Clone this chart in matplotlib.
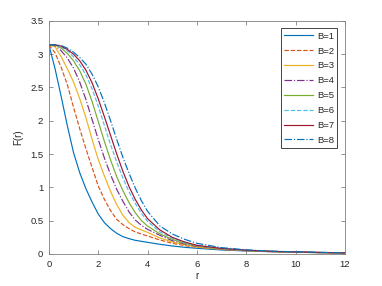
import numpy as np
import matplotlib
matplotlib.use("Agg")
import matplotlib.pyplot as plt

plt.rcParams['font.family'] = ['Liberation Sans', 'DejaVu Sans']

# r grid the curves were read at
r = [0, 0.25, 0.5, 0.75, 1.0, 1.25, 1.5, 1.75, 2.0, 2.25, 2.5, 2.75, 3.0, 3.25,
     3.5, 3.75, 4.0, 4.5, 5.0, 5.5, 6.0, 7.0, 8.0, 9.0, 10.0, 11.0, 12.0]

# F(r) for each B
F_B1 = [3.14, 2.78, 2.36, 1.92, 1.52, 1.22, 0.98, 0.78, 0.60, 0.47, 0.38, 0.31, 0.26, 0.23,
        0.205, 0.19, 0.175, 0.145, 0.12, 0.10, 0.085, 0.06, 0.045, 0.034, 0.026, 0.019, 0.014]
F_B2 = [3.14, 3.02, 2.80, 2.54, 2.20, 1.88, 1.58, 1.30, 1.02, 0.82, 0.65, 0.52, 0.44, 0.38,
        0.33, 0.30, 0.27, 0.21, 0.16, 0.125, 0.10, 0.068, 0.048, 0.035, 0.026, 0.020, 0.015]
F_B3 = [3.14, 3.11, 2.96, 2.78, 2.58, 2.33, 2.05, 1.72, 1.42, 1.17, 0.94, 0.74, 0.58, 0.47,
        0.40, 0.36, 0.325, 0.24, 0.18, 0.14, 0.105, 0.07, 0.05, 0.036, 0.027, 0.020, 0.015]
F_B4 = [3.14, 3.13, 3.05, 2.94, 2.79, 2.58, 2.32, 2.02, 1.72, 1.44, 1.19, 0.97, 0.79, 0.63,
        0.51, 0.43, 0.37, 0.28, 0.20, 0.15, 0.115, 0.075, 0.052, 0.037, 0.028, 0.021, 0.016]
F_B5 = [3.14, 3.14, 3.09, 3.01, 2.90, 2.75, 2.55, 2.29, 1.99, 1.69, 1.41, 1.16, 0.95, 0.77,
        0.62, 0.50, 0.42, 0.30, 0.22, 0.16, 0.12, 0.078, 0.054, 0.038, 0.029, 0.022, 0.016]
F_B6 = [3.14, 3.14, 3.11, 3.05, 2.96, 2.84, 2.69, 2.48, 2.22, 1.93, 1.64, 1.38, 1.14, 0.93,
        0.76, 0.61, 0.49, 0.33, 0.24, 0.17, 0.125, 0.08, 0.055, 0.039, 0.030, 0.022, 0.017]
F_B7 = [3.14, 3.14, 3.12, 3.07, 3.00, 2.90, 2.76, 2.57, 2.33, 2.06, 1.78, 1.50, 1.24, 1.01,
        0.82, 0.66, 0.53, 0.36, 0.25, 0.18, 0.13, 0.083, 0.057, 0.040, 0.030, 0.023, 0.017]
F_B8 = [3.14, 3.14, 3.13, 3.09, 3.03, 2.95, 2.85, 2.70, 2.51, 2.27, 2.00, 1.72, 1.45, 1.21,
        0.99, 0.80, 0.64, 0.42, 0.30, 0.22, 0.16, 0.095, 0.062, 0.043, 0.032, 0.024, 0.018]

curves = [F_B1, F_B2, F_B3, F_B4, F_B5, F_B6, F_B7, F_B8]
labels = ['B=1', 'B=2', 'B=3', 'B=4', 'B=5', 'B=6', 'B=7', 'B=8']

# matlab default colour order, wraps round for B=8
colors = ['#0072BD', '#D95319', '#EDB120', '#7E2F8E', '#77AC30', '#4DBEEE', '#A2142F', '#0072BD']
styles = ['-', '--', '-', '-.', '-', '--', '-', '-.']

fig = plt.figure(figsize=(3.82, 2.86), dpi=100)
ax = fig.add_axes([0.128, 0.112, 0.775, 0.815])

for F, lab, c, ls in zip(curves, labels, colors, styles):
    ax.plot(r, F, color=c, linestyle=ls, linewidth=0.85, label=lab)

ax.set_xlim(0, 12)
ax.set_ylim(0, 3.5)
ax.set_xticks(np.arange(0, 13, 2))
ax.set_yticks(np.arange(0, 3.6, 0.5))
ax.set_yticklabels(['0', '0.5', '1', '1.5', '2', '2.5', '3', '3.5'])

grey = '#262626'
for s in ax.spines.values():
    s.set_color('#808080')
    s.set_linewidth(0.6)
ax.tick_params(direction='in', top=True, right=True, length=3, width=0.6,
               colors='#808080', labelcolor=grey, labelsize=6.8, pad=4)

ax.set_xlabel('r', fontsize=7, color=grey, labelpad=2)
ax.set_ylabel('F(r)', fontsize=7, color=grey, labelpad=5)

leg = ax.legend(loc='upper right', fontsize=6.8, handlelength=3.1, labelspacing=0.62,
                handletextpad=0.4, borderaxespad=0.8, fancybox=False, framealpha=1,
                borderpad=0.35)
leg.get_frame().set_edgecolor(grey)
leg.get_frame().set_linewidth(0.6)
for t in leg.get_texts():
    t.set_color(grey)

fig.savefig('out.png', dpi=100)
